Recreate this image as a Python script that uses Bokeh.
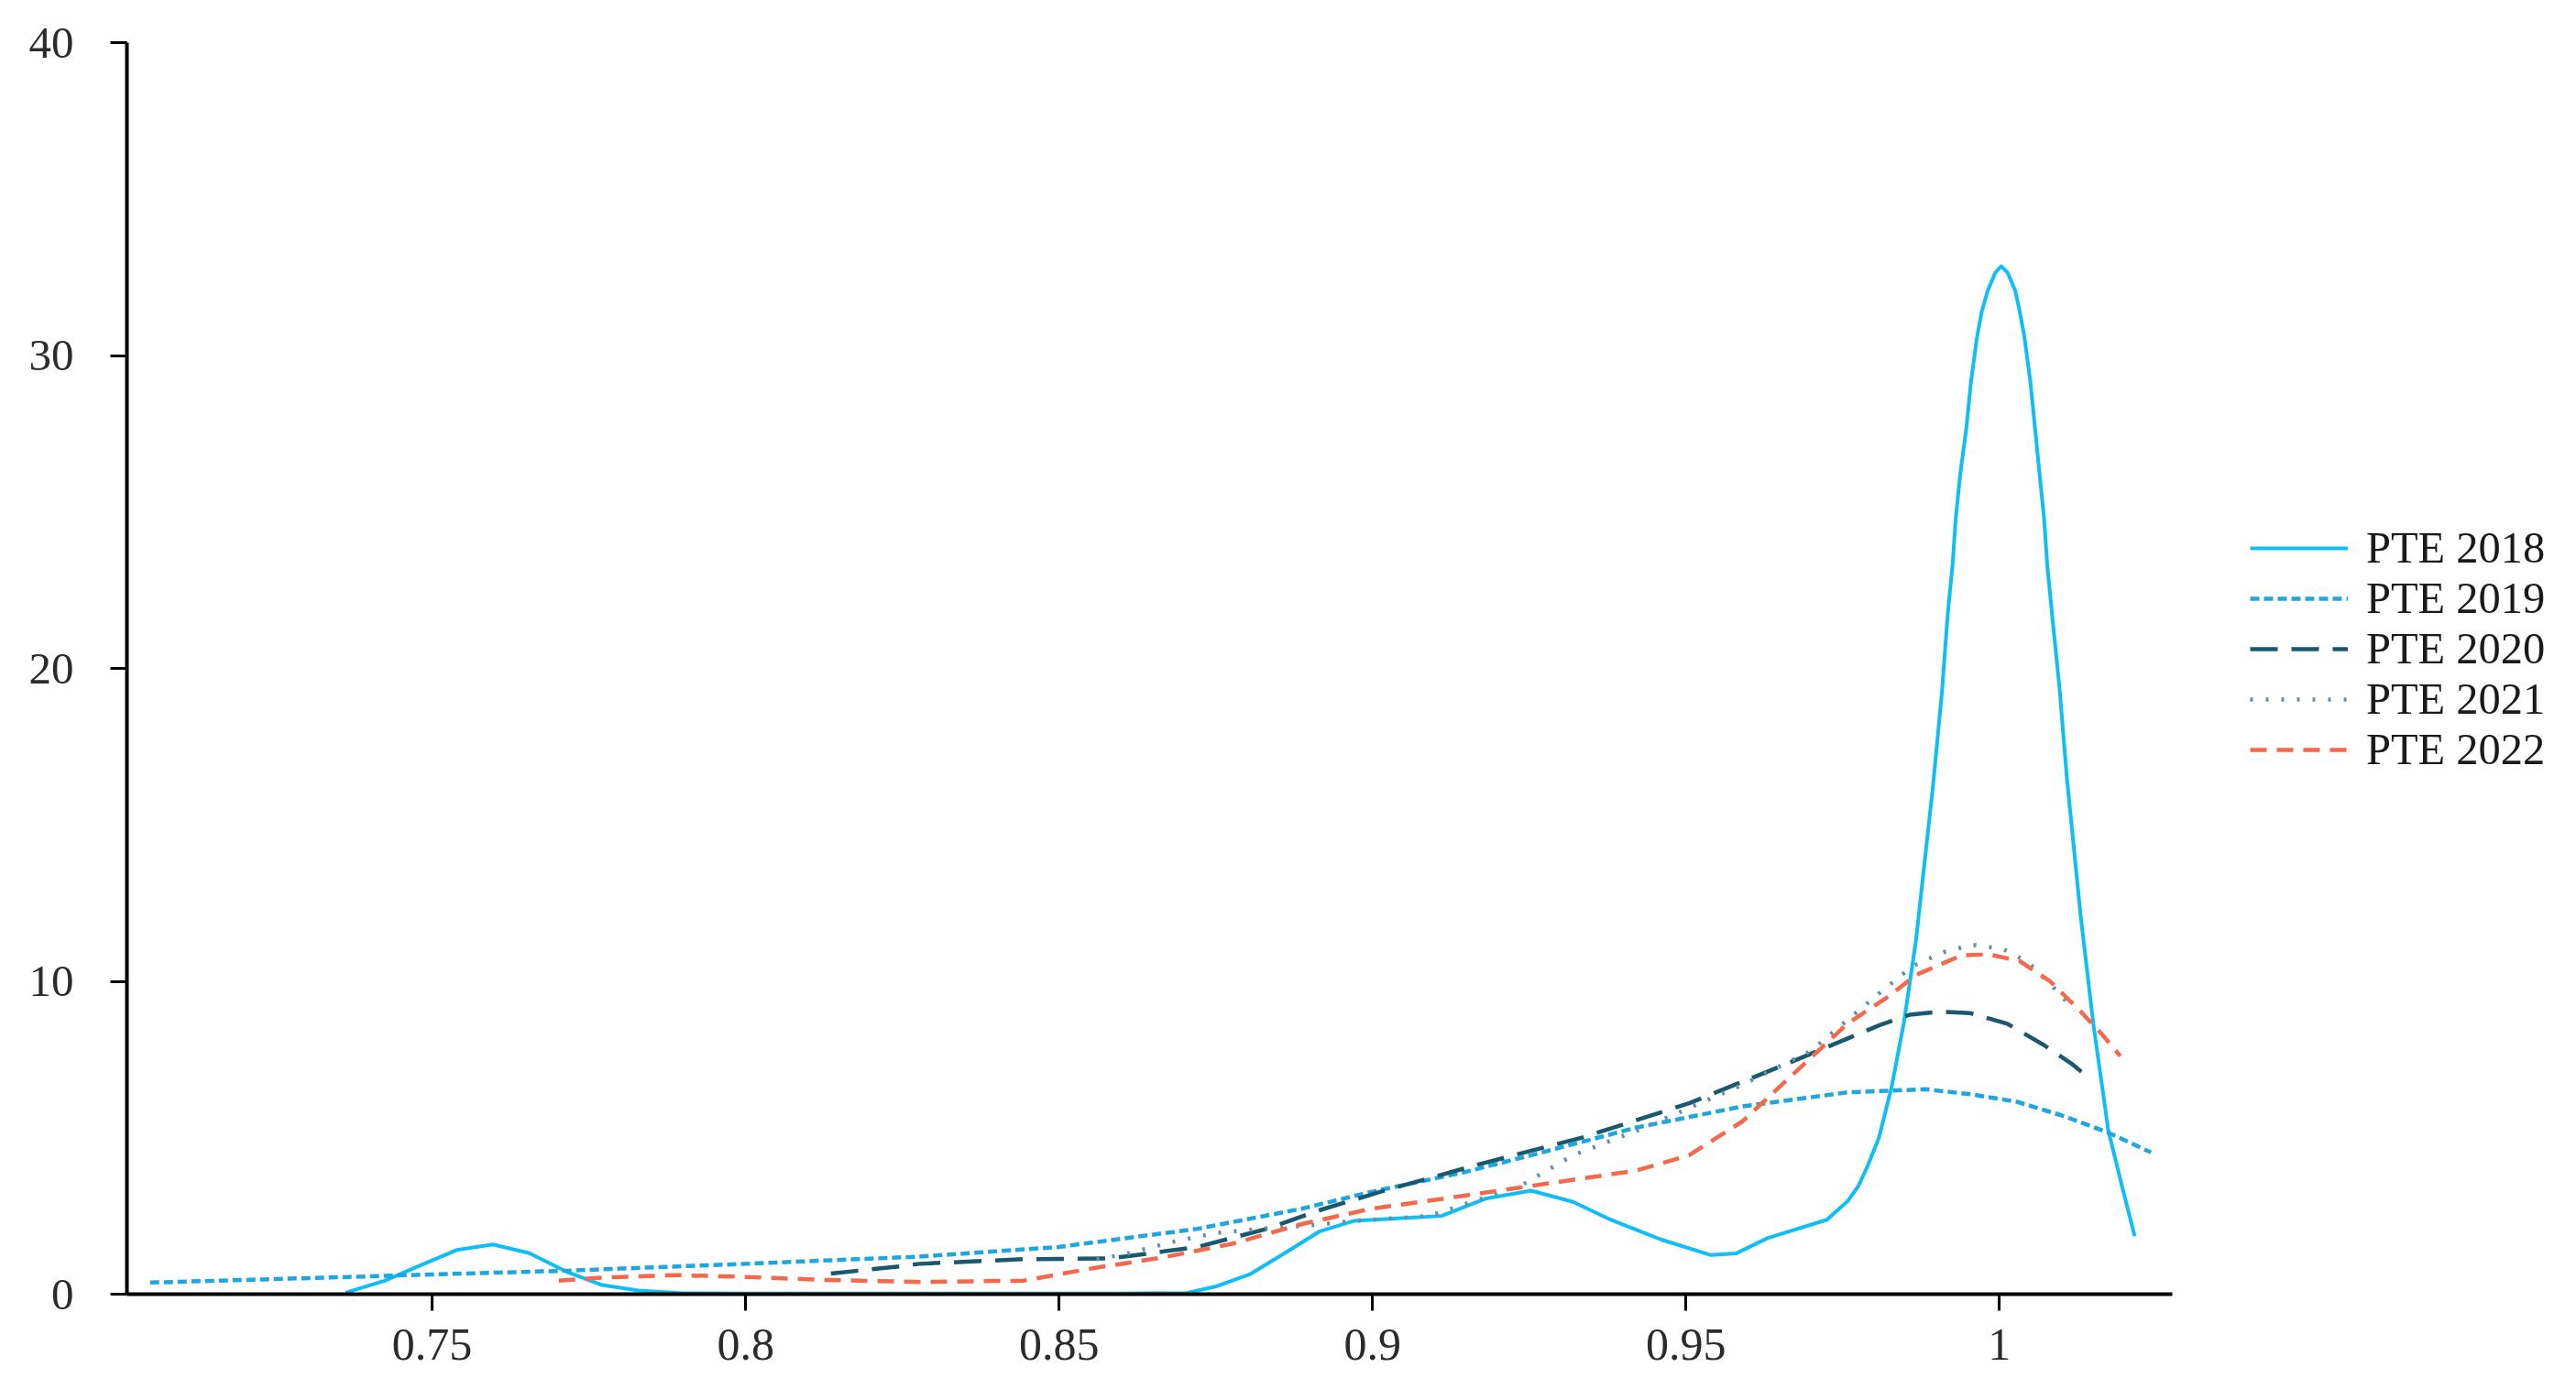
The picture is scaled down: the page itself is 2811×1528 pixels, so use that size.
from bokeh.plotting import figure
from bokeh.models import Legend, LegendItem, FixedTicker, Range1d
from bokeh.embed import file_html
from bokeh.resources import INLINE

# ---- data (kernel density curves) ----
x_2018 = [0.7362, 0.7424, 0.7481, 0.7539, 0.7597, 0.7655, 0.7713, 0.7771, 0.7829, 0.790,
          0.800, 0.830, 0.860, 0.8704, 0.8749, 0.8804, 0.886, 0.8915, 0.897, 0.9054,
          0.911, 0.918, 0.9253, 0.932, 0.938, 0.946, 0.954, 0.958, 0.963, 0.9725,
          0.9758, 0.9775, 0.979, 0.9808, 0.9828, 0.9848, 0.9867, 0.9894, 0.99083, 0.9918,
          0.99254, 0.99303, 0.99376, 0.99474, 0.99547, 0.99645, 0.99718, 0.99815, 0.99937, 1.0003,
          1.00132, 1.00254, 1.00327, 1.004, 1.00497, 1.0057, 1.00643, 1.00716, 1.00765, 1.00838,
          1.0096, 1.0108, 1.013, 1.015, 1.0174, 1.0198, 1.0216]
y_2018 = [0.05, 0.43, 0.92, 1.41, 1.59, 1.31, 0.73, 0.29, 0.12, 0.03,
          0.02, 0.02, 0.02, 0.04, 0.24, 0.63, 1.31, 2.0, 2.34, 2.44,
          2.50, 3.05, 3.31, 2.95, 2.38, 1.75, 1.25, 1.3, 1.79, 2.38,
          2.97, 3.45, 4.1, 5.0, 6.6, 8.7, 11.3, 16.2, 19.2, 21.8,
          23.3, 24.75, 26.2, 27.67, 29.14, 30.6, 31.39, 32.07, 32.65, 32.85,
          32.65, 32.07, 31.39, 30.6, 29.14, 27.67, 26.2, 24.75, 23.3, 21.8,
          19.38, 16.45, 12.05, 8.64, 5.22, 3.27, 1.85]

x_2019 = [0.705, 0.7366, 0.75, 0.7713, 0.80, 0.8277, 0.85, 0.8721, 0.8887, 0.8998,
          0.9147, 0.9253, 0.942, 0.959, 0.9758, 0.9882, 0.9954, 1.0028, 1.01, 1.0173, 1.0242]
y_2019 = [0.37, 0.55, 0.63, 0.75, 0.97, 1.2, 1.51, 2.09, 2.73, 3.27,
          3.9, 4.44, 5.32, 6.0, 6.45, 6.55, 6.39, 6.15, 5.71, 5.17, 4.53]

x_2020 = [0.8136, 0.8252, 0.8277, 0.8443, 0.8582, 0.8721, 0.8832, 0.8915, 0.9026, 0.9168,
          0.9337, 0.9505, 0.9674, 0.9808, 0.9857, 0.9906, 0.9954, 1.0013, 1.0072, 1.0115, 1.0145]
y_2020 = [0.66, 0.9, 0.97, 1.12, 1.14, 1.51, 2.09, 2.68, 3.35, 4.14,
          5.02, 6.1, 7.47, 8.59, 8.93, 9.03, 8.98, 8.64, 7.95, 7.37, 6.88]

x_2021 = [0.856, 0.8604, 0.8676, 0.8749, 0.8821, 0.89, 0.897, 0.909, 0.9236, 0.932,
          0.9421, 0.959, 0.9699, 0.9808, 0.9862, 0.9911, 0.9957, 1.0006, 1.003, 1.0052,
          1.0086, 1.012]
y_2021 = [1.12, 1.27, 1.65, 1.95, 2.09, 2.2, 2.34, 2.5, 3.46, 4.44,
          5.22, 6.69, 7.77, 9.61, 10.49, 10.93, 11.17, 11.03, 10.78, 10.49,
          9.81, 9.07]

x_2022 = [0.7702, 0.7771, 0.7887, 0.8003, 0.8119, 0.8277, 0.8443, 0.8554, 0.8665, 0.8776,
          0.8887, 0.8998, 0.9147, 0.9253, 0.9421, 0.9505, 0.959, 0.9674, 0.9758, 0.9823,
          0.9867, 0.994, 0.9984, 1.0033, 1.0081, 1.013, 1.0164, 1.0193]
y_2022 = [0.43, 0.53, 0.61, 0.55, 0.46, 0.39, 0.43, 0.83, 1.17, 1.61,
          2.24, 2.73, 3.15, 3.46, 3.95, 4.44, 5.52, 7.08, 8.65, 9.51,
          10.2, 10.83, 10.86, 10.64, 10.0, 9.03, 8.3, 7.61]

series_names = ["PTE 2018", "PTE 2019", "PTE 2020", "PTE 2021", "PTE 2022"]

x_ticks = [0.75, 0.8, 0.85, 0.9, 0.95, 1.0]
x_tick_labels = ["0.75", "0.8", "0.85", "0.9", "0.95", "1"]
y_ticks = [0, 10, 20, 30, 40]

# ---- styles ----
colors = ["#10BEF6", "#20A6DF", "#18596F", "#6390A4", "#F4694B"]
dashes = ["solid", "10 5", "30 15", "3 14", "18 11"]
widths = [4, 4.5, 4.5, 4.5, 4.5]

FONT = "Liberation Serif"

p = figure(frame_width=2232, frame_height=1366, output_backend="svg", toolbar_location=None,
           x_range=Range1d(0.7013, 1.0276), y_range=Range1d(0, 40),
           min_border_left=138, min_border_right=0, min_border_top=46,
           min_border_bottom=100)
p.outline_line_color = None
p.grid.visible = False
p.background_fill_color = "white"
p.border_fill_color = "white"

xs_all = [x_2018, x_2019, x_2020, x_2021, x_2022]
ys_all = [y_2018, y_2019, y_2020, y_2021, y_2022]
renderers = []
for xs, ys, c, d, w in zip(xs_all, ys_all, colors, dashes, widths):
    r = p.line(xs, ys, line_color=c, line_dash=d, line_width=w, line_join="round")
    renderers.append(r)

for ax in (p.xaxis[0], p.yaxis[0]):
    ax.axis_line_width = 4
    ax.axis_line_color = "black"
    ax.major_tick_line_width = 3
    ax.major_tick_line_color = "black"
    ax.major_tick_out = 18
    ax.major_tick_in = 0
    ax.minor_tick_line_color = None
    ax.major_label_text_font = FONT
    ax.major_label_text_color = "#2b2b2b"

p.xaxis[0].ticker = FixedTicker(ticks=x_ticks)
p.xaxis[0].major_label_overrides = {t: l for t, l in zip(x_ticks, x_tick_labels)}
p.xaxis[0].major_label_text_font_size = "50px"
p.xaxis[0].major_label_standoff = 20

p.yaxis[0].ticker = FixedTicker(ticks=y_ticks)
p.yaxis[0].major_label_text_font_size = "49px"
p.yaxis[0].major_label_standoff = 40

legend = Legend(items=[LegendItem(label=n, renderers=[r]) for n, r in zip(series_names, renderers)],
                location=(85, 567), orientation="vertical",
                label_text_font=FONT, label_text_font_size="48.5px", label_text_color="#1a1a1a",
                glyph_width=107, glyph_height=20, label_standoff=20, label_height=50,
                spacing=0, padding=0, margin=0,
                border_line_color=None, background_fill_alpha=0)
p.add_layout(legend, "right")

open("out.html", "w").write(file_html(p, INLINE))
